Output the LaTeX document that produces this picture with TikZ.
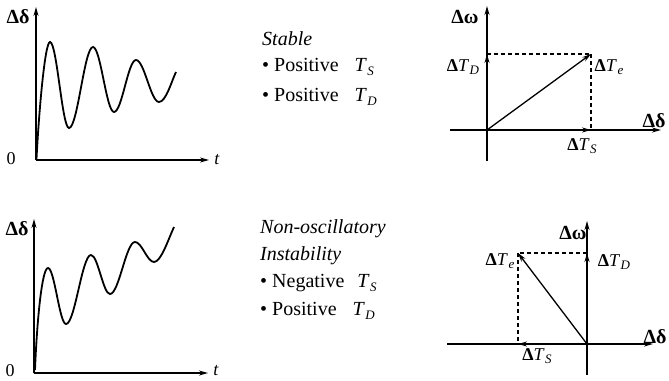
\documentclass[tikz,border=0pt]{standalone}
\usepackage{fontspec}
\setmainfont{Liberation Serif}
\usetikzlibrary{arrows.meta}
\newcommand{\Tsb}[1]{\textit{T}\kern0.5pt\raisebox{-0.4ex}{\fontsize{13}{13}\selectfont\textit{#1}}}
\newcommand{\Dl}{{\bfseries Δ}}
\tikzset{
  ax/.style={line width=1.3pt,-{Stealth[length=9pt,width=5pt]}},
  wave/.style={line width=1.8pt},
  vec/.style={line width=1.3pt,-{Stealth[length=9pt,width=5pt]}},
  dsh/.style={line width=1.1pt,dash pattern=on 4pt off 3pt},
  lab/.style={font=\fontsize{18}{20}\selectfont,inner sep=0pt},
  big/.style={font=\fontsize{20}{22}\selectfont\bfseries,inner sep=0pt},
  txt/.style={font=\fontsize{20}{22}\selectfont,inner sep=0pt,anchor=west},
}
\begin{document}
\begin{tikzpicture}[x=1pt,y=-1pt]
\useasboundingbox (0,0) rectangle (669,380);
% ---------- top time plot
\coordinate (o1) at (36,160);
\coordinate (y1) at (36,7);
\coordinate (x1) at (209,160);
\draw[ax] (o1) -- (y1);
\draw[ax] (o1) -- (x1);
\node[big] (d1) at (18,17) {Δδ};
\node[lab,anchor=center] (z1) at (11,159) {0};
\node[lab,anchor=center] (t1) at (217,160) {\textit{t}};
\draw[wave] (36.5,159) .. controls (39,110) and (45,42) .. (50,42)
  .. controls (56.9,42) and (62.1,128) .. (69,128)
  .. controls (77.7,128) and (84.3,47) .. (93,47)
  .. controls (100.6,47) and (106.4,112) .. (114,112)
  .. controls (122,112) and (128,60) .. (136,60)
  .. controls (144.3,60) and (150.7,102) .. (159,102)
  .. controls (166,102) and (172,80) .. (176,72);
% ---------- bottom time plot
\coordinate (o2) at (34,373);
\coordinate (y2) at (34,219);
\coordinate (x2) at (208,373);
\draw[ax] (o2) -- (y2);
\draw[ax] (o2) -- (x2);
\node[big] (d2) at (17,229) {Δδ};
\node[lab,anchor=center] (z2) at (10,371) {0};
\node[lab,anchor=center] (t2) at (216,371) {\textit{t}};
\draw[wave] (35,370) .. controls (37,320) and (42,268) .. (48,268)
  .. controls (54.5,268) and (59.5,324) .. (66,324)
  .. controls (75,324) and (82,255) .. (91,255)
  .. controls (97.9,255) and (103.1,294) .. (110,294)
  .. controls (119,294) and (126,242) .. (135,242)
  .. controls (141.9,242) and (147.1,262) .. (154,262)
  .. controls (161,262) and (168,240) .. (174,227);
% ---------- middle texts
\node[txt] (s1) at (262,39) {\textit{Stable}};
\node[txt] (s2) at (262,67) {•\ Positive\hspace{16pt}\Tsb{S}};
\node[txt] (s3) at (262,97) {•\ Positive\hspace{16pt}\Tsb{D}};
\node[txt] (n1) at (260,229) {\textit{Non-oscillatory}};
\node[txt] (n2) at (260,256) {\textit{Instability}};
\node[txt] (n3) at (260,283) {•\ Negative\hspace{13pt}\Tsb{S}};
\node[txt] (n4) at (260,311) {•\ Positive\hspace{16pt}\Tsb{D}};
% ---------- top phasor
\coordinate (p0) at (487,130);
\coordinate (pyb) at (487,161);
\coordinate (pyt) at (487,6);
\coordinate (pxl) at (450,130);
\coordinate (pxr) at (661,130);
\coordinate (pD) at (487,54);
\coordinate (pS) at (591,130);
\coordinate (pE) at (591,54);
\draw[line width=1.3pt] (pyb) -- (p0);
\draw[ax] (p0) -- (pyt);
\draw[line width=1.3pt] (pxl) -- (p0);
\draw[ax] (p0) -- (pxr);
\draw[vec] (p0) -- (pD);
\draw[vec] (p0) -- (pS);
\draw[vec] (p0) -- (pE);
\draw[dsh] (pD) -- (pE);
\draw[dsh] (pE) -- (pS);
\node[big] (lw1) at (465,17) {Δω};
\node[lab] (ld1) at (463,67) {\Dl\Tsb{D}};
\node[lab] (le1) at (609,67) {\Dl\Tsb{e}};
\node[lab] (ls1) at (582,146) {\Dl\Tsb{S}};
\node[big] (lx1) at (654,121) {Δδ};
% ---------- bottom phasor
\coordinate (q0) at (587,344);
\coordinate (qyb) at (587,375);
\coordinate (qyt) at (587,221);
\coordinate (qxl) at (447,344);
\coordinate (qxr) at (653,344);
\coordinate (qD) at (587,253);
\coordinate (qS) at (518,344);
\coordinate (qE) at (518,253);
\draw[line width=1.3pt] (qyb) -- (q0);
\draw[ax] (q0) -- (qyt);
\draw[line width=1.3pt] (qxl) -- (q0);
\draw[ax] (q0) -- (qxr);
\draw[vec] (q0) -- (qD);
\draw[vec] (q0) -- (qS);
\draw[vec] (q0) -- (qE);
\draw[dsh] (qD) -- (qE);
\draw[dsh] (qE) -- (qS);
\node[big] (lw2) at (573,233) {Δω};
\node[lab] (ld2) at (614,262) {\Dl\Tsb{D}};
\node[lab] (le2) at (500,261) {\Dl\Tsb{e}};
\node[lab] (ls2) at (537,356) {\Dl\Tsb{S}};
\node[big] (lx2) at (655,337) {Δδ};
\end{tikzpicture}
\end{document}
